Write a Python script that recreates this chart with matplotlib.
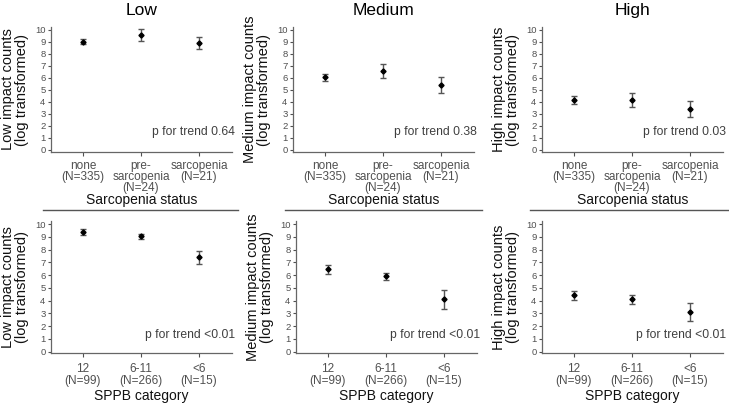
import numpy as np
import matplotlib
matplotlib.use('Agg')
import matplotlib.pyplot as plt
from matplotlib.lines import Line2D

plt.rcParams['font.family'] = ['Liberation Sans', 'DejaVu Sans']

# categories
sarc_labels = ['none\n(N=335)', 'pre-\nsarcopenia\n(N=24)', 'sarcopenia\n(N=21)']
sppb_labels = ['12\n(N=99)', '6-11\n(N=266)', '<6\n(N=15)']
intensity = ['Low', 'Medium', 'High']

# means and CI half-widths (log transformed counts)
sarc_mean = {'Low': [9.03, 9.58, 8.92], 'Medium': [6.05, 6.58, 5.45], 'High': [4.17, 4.17, 3.42]}
sarc_err = {'Low': [0.2, 0.47, 0.5], 'Medium': [0.32, 0.62, 0.67], 'High': [0.33, 0.57, 0.65]}
sppb_mean = {'Low': [9.37, 9.06, 7.39], 'Medium': [6.46, 5.92, 4.1], 'High': [4.41, 4.1, 3.13]}
sppb_err = {'Low': [0.23, 0.19, 0.5], 'Medium': [0.35, 0.28, 0.75], 'High': [0.37, 0.33, 0.72]}
p_sarc = ['0.64', '0.38', '0.03']
p_sppb = ['<0.01', '<0.01', '<0.01']

W, H = 729, 403
fig = plt.figure(figsize=(W / 100, H / 100), dpi=100)

grey = '#555555'
top_lefts = [51, 293, 542]
bot_lefts = [51, 296, 542]
ax_w = 181


def panel(left_px, bottom_px, height_px, ylim, means, errs, labels, ptext, ylab, xlab, tickpad, xlab_y, py):
    ax = fig.add_axes([left_px / W, 1 - bottom_px / H, ax_w / W, height_px / H])
    x = np.arange(len(labels))
    ax.errorbar(x, means, yerr=errs, fmt='D', color='black', ms=2.6,
                ecolor=grey, elinewidth=1.0, capsize=2, capthick=1.0)
    ax.set_xlim(-0.55, 2.57)
    ax.set_ylim(*ylim)
    ax.set_yticks(range(11))
    ax.set_xticks(x)
    ax.set_xticklabels(labels, fontsize=8.5, color='#505050', linespacing=0.9)
    ax.tick_params(axis='y', labelsize=6.8, colors='#505050', length=2.5, width=0.8, pad=1.5)
    ax.tick_params(axis='x', length=3, width=0.8, colors='#505050', pad=tickpad)
    for s in ['top', 'right']:
        ax.spines[s].set_visible(False)
    for s in ['left', 'bottom']:
        ax.spines[s].set_color('#666666')
        ax.spines[s].set_linewidth(0.9)
    ax.set_ylabel(ylab, fontsize=10.5, linespacing=1.0, va='center', color='#111111')
    ax.yaxis.set_label_coords(-0.2, 0.5)
    ax.set_xlabel(xlab, fontsize=10, va='center', color='#111111')
    ax.xaxis.set_label_coords(0.5, xlab_y)
    ax.text(2.62, py, 'p for trend ' + ptext, ha='right', va='center', fontsize=8.7, color='#404040')
    return ax


for i, name in enumerate(intensity):
    ylab = name + ' impact counts\n(log transformed)'
    ax = panel(top_lefts[i], 152, 125, (-0.17, 10.25), sarc_mean[name], sarc_err[name],
               sarc_labels, p_sarc[i], ylab, 'Sarcopenia status', 2.5, -0.384, 1.5)
    ax.set_title(name, fontsize=12.5, pad=9)
    panel(bot_lefts[i], 353, 132, (-0.1, 10.25), sppb_mean[name], sppb_err[name],
          sppb_labels, p_sppb[i], ylab, 'SPPB category', 4.5, -0.325, 1.35)

# separator lines under "Sarcopenia status"
for x0, x1 in [(43, 238), (285, 482), (530, 729)]:
    fig.add_artist(Line2D([x0 / W, x1 / W], [1 - 210 / H, 1 - 210 / H], color='#555555', lw=1.0))

fig.savefig('out.png', dpi=100)
